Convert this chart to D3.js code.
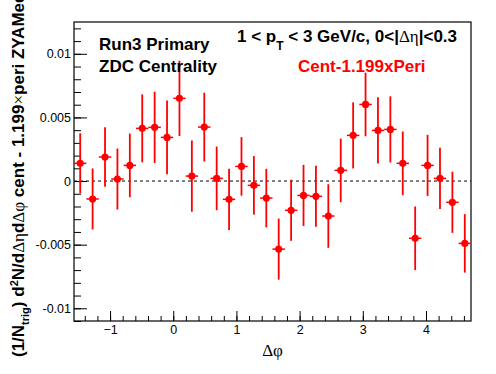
<!DOCTYPE html>
<html>
<head>
<meta charset="utf-8">
<script src="https://cdn.jsdelivr.net/npm/d3@7"></script>
<style>
  body { margin: 0; background: #fff; }
  svg { display: block; font-family: "Liberation Sans", Arial, sans-serif; }
  .tick text { font-size: 12.5px; fill: #000; }
  .axis path, .axis line { stroke: #000; stroke-width: 1; }
  .label { font-weight: bold; font-size: 17px; }
  .greek { font-family: "Liberation Serif", serif; font-weight: normal; }
</style>
</head>
<body>
<div id="wrapper"></div>
<script>
// delta phi bin centres (32 bins from -pi/2 to 3pi/2)
const phiCenters = [-1.4726, -1.2763, -1.0799, -0.8836, -0.6872, -0.4909, -0.2945, -0.0982,
  0.0982, 0.2945, 0.4909, 0.6872, 0.8836, 1.0799, 1.2763, 1.4726,
  1.6690, 1.8653, 2.0617, 2.2580, 2.4544, 2.6507, 2.8471, 3.0434,
  3.2398, 3.4361, 3.6325, 3.8288, 4.0252, 4.2215, 4.4179, 4.6142]
const binHalfWidth = 0.0982
// Cent - 1.199 x Peri values and errors
const yieldValues = [0.00139, -0.00141, 0.00189, 0.00016, 0.00123, 0.00414, 0.00422, 0.00343,
  0.0065, 0.00039, 0.00424, 0.00021, -0.00144, 0.00115, -0.00034, -0.00134,
  -0.00535, -0.0023, -0.00113, -0.0012, -0.00275, 0.00084, 0.00359, 0.00602,
  0.00398, 0.00406, 0.00139, -0.0045, 0.00123, 0.00021, -0.00167, -0.0049]
const yieldErrors = [0.00236, 0.0024, 0.00234, 0.0024, 0.0025, 0.00267, 0.0028, 0.0029,
  0.00296, 0.0028, 0.0027, 0.0025, 0.0024, 0.0023, 0.0023, 0.0023,
  0.0024, 0.0024, 0.0024, 0.0024, 0.0025, 0.0025, 0.0026, 0.0025,
  0.0026, 0.0026, 0.0025, 0.0025, 0.0024, 0.0024, 0.0024, 0.0023]
const xTickValues = [-1, 0, 1, 2, 3, 4]
const yTickValues = [-0.01, -0.005, 0, 0.005, 0.01]
const yTickLabels = ["-0.01", "-0.005", "0", "0.005", "0.01"]

const points = phiCenters.map((x, i) => ({x, y: yieldValues[i], e: yieldErrors[i]}))

const dimensions = {
  width: 496,
  height: 374,
  margin: {top: 22, right: 25, bottom: 53, left: 74},
}
dimensions.boundedWidth = dimensions.width - dimensions.margin.left - dimensions.margin.right
dimensions.boundedHeight = dimensions.height - dimensions.margin.top - dimensions.margin.bottom

const wrapper = d3.select("#wrapper")
  .append("svg")
  .attr("width", dimensions.width)
  .attr("height", dimensions.height)

const bounds = wrapper.append("g")
  .attr("transform", `translate(${dimensions.margin.left},${dimensions.margin.top})`)

const xScale = d3.scaleLinear()
  .domain([-Math.PI / 2, 3 * Math.PI / 2])
  .range([0, dimensions.boundedWidth])
const yScale = d3.scaleLinear()
  .domain([-0.011, 0.0125])
  .range([dimensions.boundedHeight, 0])

// minor ticks first, then the labelled major ones (ticks point inwards like ROOT)
const xMinor = d3.range(-1.4, 4.61, 0.2)
const yMinor = d3.range(-0.011, 0.01201, 0.001)

bounds.append("g")
  .attr("class", "axis")
  .attr("transform", `translate(0,${dimensions.boundedHeight})`)
  .call(d3.axisBottom(xScale).tickValues(xMinor).tickSize(-5).tickFormat(""))
  .call(g => g.select(".domain").remove())
bounds.append("g")
  .attr("class", "axis")
  .attr("transform", `translate(0,${dimensions.boundedHeight})`)
  .call(d3.axisBottom(xScale).tickValues(xTickValues).tickSize(-10).tickPadding(4)
    .tickFormat(d3.format("d")))
  .call(g => g.select(".domain").remove())

bounds.append("g")
  .attr("class", "axis")
  .call(d3.axisLeft(yScale).tickValues(yMinor).tickSize(-7).tickFormat(""))
  .call(g => g.select(".domain").remove())
bounds.append("g")
  .attr("class", "axis")
  .call(d3.axisLeft(yScale).tickValues(yTickValues).tickSize(-13).tickPadding(3)
    .tickFormat((d, i) => yTickLabels[i]))
  .call(g => g.select(".domain").remove())

// frame
bounds.append("rect")
  .attr("width", dimensions.boundedWidth)
  .attr("height", dimensions.boundedHeight)
  .attr("fill", "none")
  .attr("stroke", "#000")
  .attr("stroke-width", 1.2)

// zero line
bounds.append("line")
  .attr("x1", 0)
  .attr("x2", dimensions.boundedWidth)
  .attr("y1", yScale(0))
  .attr("y2", yScale(0))
  .attr("stroke", "#000")
  .attr("stroke-dasharray", "3,3")

// error bars and markers
const marks = bounds.append("g")
marks.selectAll(".ex")
  .data(points)
  .enter().append("line")
  .attr("x1", d => xScale(d.x - binHalfWidth))
  .attr("x2", d => xScale(d.x + binHalfWidth))
  .attr("y1", d => yScale(d.y))
  .attr("y2", d => yScale(d.y))
  .attr("stroke", "#f00")
  .attr("stroke-width", 1.5)
marks.selectAll(".ey")
  .data(points)
  .enter().append("line")
  .attr("x1", d => xScale(d.x))
  .attr("x2", d => xScale(d.x))
  .attr("y1", d => yScale(d.y - d.e))
  .attr("y2", d => yScale(d.y + d.e))
  .attr("stroke", "#f00")
  .attr("stroke-width", 1.8)
marks.selectAll("circle")
  .data(points)
  .enter().append("circle")
  .attr("cx", d => xScale(d.x))
  .attr("cy", d => yScale(d.y))
  .attr("r", 3.6)
  .attr("fill", "#f00")

// text labels
wrapper.append("text").attr("class", "label")
  .attr("x", 99).attr("y", 50).text("Run3 Primary")
wrapper.append("text").attr("class", "label")
  .attr("x", 99).attr("y", 72).text("ZDC Centrality")
wrapper.append("text").attr("class", "label")
  .attr("x", 298).attr("y", 72).attr("fill", "#f00").text("Cent-1.199xPeri")

const kin = wrapper.append("text").attr("class", "label")
  .attr("x", 237).attr("y", 42)
kin.append("tspan").text("1 < p")
kin.append("tspan").attr("font-size", 12).attr("dy", 8).text("T")
kin.append("tspan").attr("dy", -8).text(" < 3 GeV/c, 0<|")
kin.append("tspan").attr("class", "greek").text("Δη")
kin.append("tspan").text("|<0.3")

// axis titles
wrapper.append("text")
  .attr("class", "greek")
  .attr("x", dimensions.margin.left + dimensions.boundedWidth / 2)
  .attr("y", 356)
  .attr("text-anchor", "middle")
  .attr("font-size", 17)
  .text("Δφ")

const yTitle = wrapper.append("text").attr("class", "label")
  .attr("transform", "translate(24,357) rotate(-90)")
  .attr("font-size", 16)
yTitle.append("tspan").text("(1/N")
yTitle.append("tspan").attr("font-size", 11).attr("dy", 5).text("trig")
yTitle.append("tspan").attr("dy", -5).text(") d")
yTitle.append("tspan").attr("font-size", 11).attr("dy", -6).text("2")
yTitle.append("tspan").attr("dy", 6).text("N/d")
yTitle.append("tspan").attr("class", "greek").text("Δη")
yTitle.append("tspan").text("d")
yTitle.append("tspan").attr("class", "greek").text("Δφ")
yTitle.append("tspan").text(" cent - 1.199")
yTitle.append("tspan").attr("class", "greek").text("×")
yTitle.append("tspan").text("peri ZYAMed")
</script>
</body>
</html>
